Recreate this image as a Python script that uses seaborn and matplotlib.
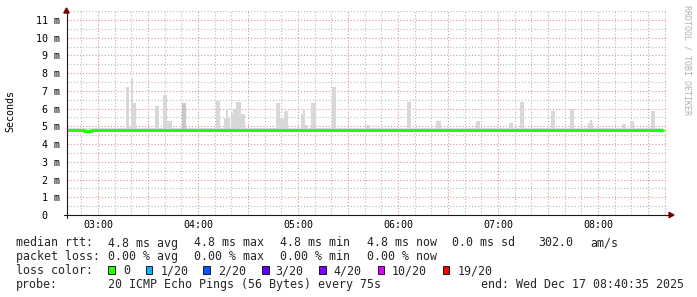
import matplotlib
matplotlib.use("Agg")
import matplotlib.pyplot as plt
from matplotlib.ticker import FixedLocator, MultipleLocator
from matplotlib.patches import Rectangle, Polygon
from matplotlib.lines import Line2D
import seaborn as sns
import pandas as pd
import numpy as np

# ---------------- data (time in minutes after 03:00, values in ms) ----------------
x_start_min = -18.6
x_end_min = 341.4
data_end_min = 339.0

hour_tick_min = [0, 60, 120, 180, 240, 300]
hour_tick_labels = ["03:00", "04:00", "05:00", "06:00", "07:00", "08:00"]

y_tick_ms = [0, 1, 2, 3, 4, 5, 6, 7, 8, 9, 10, 11]
y_tick_labels = ["0  ", "1 m", "2 m", "3 m", "4 m", "5 m", "6 m", "7 m", "8 m", "9 m", "10 m", "11 m"]

median_start_min = -18.6
median_step_min = 5.0
median_ms = [
    4.80, 4.81, 4.73, 4.79, 4.80, 4.80, 4.81, 4.80, 4.80, 4.79, 4.80, 4.81,
    4.80, 4.80, 4.79, 4.80, 4.81, 4.80, 4.80, 4.80, 4.79, 4.80, 4.81, 4.80,
    4.80, 4.79, 4.80, 4.80, 4.81, 4.80, 4.80, 4.79, 4.80, 4.80, 4.81, 4.80,
    4.79, 4.80, 4.80, 4.81, 4.80, 4.80, 4.79, 4.80, 4.80, 4.81, 4.80, 4.80,
    4.79, 4.80, 4.81, 4.80, 4.80, 4.79, 4.80, 4.80, 4.81, 4.80, 4.80, 4.79,
    4.80, 4.80, 4.81, 4.80, 4.80, 4.79, 4.80, 4.80, 4.81, 4.80, 4.80, 4.80,
]

smoke_floor_ms = 4.68
smoke_band_top_ms = 4.92

spike_start_min = [16.6, 18.6, 19.8, 21.2, 34.2, 39.0, 41.6, 50.2, 70.6, 75.6, 76.8, 77.8,
                   79.8, 81.2, 82.8, 85.8, 106.6, 109.2, 111.6, 121.6, 123.0, 124.2, 127.8,
                   140.2, 160.2, 185.2, 202.8, 226.6, 246.6, 253.2, 271.6, 283.2, 294.0,
                   295.2, 314.2, 319.2, 331.6]
spike_end_min = [18.6, 19.8, 21.2, 22.8, 36.6, 41.6, 44.2, 52.6, 73.2, 77.8, 77.8, 79.2,
                 82.8, 82.8, 85.8, 88.2, 109.2, 111.6, 114.2, 123.0, 124.2, 125.4, 130.8,
                 142.8, 163.2, 187.6, 205.6, 229.2, 249.2, 255.6, 274.2, 285.6, 296.8,
                 296.4, 316.8, 321.6, 334.2]
spike_top_ms = [7.24, 5.00, 7.65, 6.30, 6.15, 6.77, 5.30, 6.30, 6.45, 5.45, 5.96, 5.45,
                5.77, 6.00, 6.36, 5.68, 6.30, 5.40, 5.85, 5.72, 5.96, 5.10, 6.33,
                7.24, 5.06, 6.36, 5.30, 5.30, 5.20, 6.36, 5.87, 5.96, 5.20,
                5.36, 5.12, 5.30, 5.87]
spike_dark = [False] * 7 + [True] + [False] * 29

legend_row1 = [(16, "median rtt:"), (107.7, "4.8 ms avg"), (194, "4.8 ms max"),
               (280.5, "4.8 ms min"), (367, "4.8 ms now"), (451.5, "0.0 ms sd"),
               (538, "302.0"), (590.5, "am/s")]
legend_row2 = [(16, "packet loss:"), (107.7, "0.00 % avg"), (194, "0.00 % max"),
               (280.5, "0.00 % min"), (367, "0.00 % now")]
loss_labels = ["0", "1/20", "2/20", "3/20", "4/20", "10/20", "19/20"]
loss_colors = ["#26ff00", "#00b8ff", "#0059ff", "#5e00ff", "#7e00ff", "#dd00ff", "#ff0000"]
loss_box_x = [108.3, 145.7, 203.3, 262.3, 319.3, 377.7, 442.7]
loss_text_x = [123.5, 160.5, 218.2, 275.5, 333.2, 391.8, 457.2]
probe_text = "20 ICMP Echo Pings (56 Bytes) every 75s"
end_text = "end: Wed Dec 17 08:40:35 2025"

# ---------------- figure ----------------
sns.set_style("white")
plt.rcParams["font.family"] = ["DejaVu Sans Mono", "DejaVu Sans"]

W, H = 697, 297
fig = plt.figure(figsize=(W / 100, H / 100), dpi=100)
fig.patch.set_facecolor("white")

def fx(px):
    return px / W

def fy(py):
    return (H - py) / H

ax_top_px, ax_bot_px, ax_left_px, ax_right_px = 11.1, 215.0, 67.0, 667.0
ax = fig.add_axes([fx(ax_left_px), fy(ax_bot_px), (ax_right_px - ax_left_px) / W,
                   (ax_bot_px - ax_top_px) / H])
ax.set_facecolor("white")
ax.set_xlim(x_start_min, x_end_min)
ax.set_ylim(0, 11.5)

# grid
grid_minor = "#bababa"
grid_major = "#e39494"
major_x = [t for t in range(0, 341, 30)]
minor_x = [t for t in range(-10, 341, 10) if t % 30 != 0]
ax.xaxis.set_major_locator(FixedLocator(major_x))
ax.xaxis.set_minor_locator(FixedLocator(minor_x))
ax.set_xticklabels([hour_tick_labels[hour_tick_min.index(t)] if t in hour_tick_min else ""
                    for t in major_x])
ax.yaxis.set_major_locator(FixedLocator(y_tick_ms))
ax.yaxis.set_minor_locator(MultipleLocator(0.5))
ax.set_yticklabels(y_tick_labels)

dot = (0, (1.0, 1.8))
ax.grid(True, which="minor", color=grid_minor, linestyle=dot, linewidth=0.8, zorder=0)
ax.grid(True, which="major", color=grid_major, linestyle=dot, linewidth=0.8, zorder=0)
ax.set_axisbelow(True)

ax.tick_params(axis="both", which="both", direction="out", length=1.5, width=0.7)
ax.tick_params(axis="both", which="major", color=grid_major)
ax.tick_params(axis="both", which="minor", color=grid_minor)
ax.tick_params(axis="x", which="major", labelsize=7.2, pad=2.2, labelcolor="black")
ax.tick_params(axis="y", which="major", labelsize=7.2, pad=3.6, labelcolor="black")
for lab in ax.get_yticklabels():
    lab.set_horizontalalignment("right")

for s in ax.spines.values():
    s.set_visible(False)

# smoke
ax.fill_between([x_start_min, data_end_min], smoke_floor_ms, smoke_band_top_ms,
                color="#dedede", linewidth=0, zorder=2)
starts = np.array(spike_start_min)
widths = np.array(spike_end_min) - starts
heights = np.array(spike_top_ms) - smoke_floor_ms
colors = ["#c6c6c6" if d else "#d8d8d8" for d in spike_dark]
ax.bar(starts, heights, width=widths, bottom=smoke_floor_ms, align="edge",
       color=colors, linewidth=0, zorder=2)

# median line
t = [median_start_min + i * median_step_min for i in range(len(median_ms))] + [data_end_min]
v = median_ms + [median_ms[-1]]
df = pd.DataFrame({"t": t, "rtt": v})
sns.lineplot(data=df, x="t", y="rtt", ax=ax, color="#26ff00", linewidth=2.2,
             drawstyle="steps-post", zorder=5, estimator=None, sort=False)
ax.set_xlabel("")
ax.set_ylabel("")

# axis lines and arrows
axis_col = "#1a1a1a"
arrow_col = "#7f0000"
fig.add_artist(Line2D([fx(66.5), fx(66.5)], [fy(218), fy(12.5)], color=axis_col,
                      linewidth=0.8, transform=fig.transFigure))
fig.add_artist(Line2D([fx(64), fx(670)], [fy(215), fy(215)], color=axis_col,
                      linewidth=0.8, transform=fig.transFigure))
fig.add_artist(Polygon([[fx(63.8), fy(13)], [fx(69.2), fy(13)], [fx(66.5), fy(8)]],
                       closed=True, color=arrow_col, transform=fig.transFigure))
fig.add_artist(Polygon([[fx(669), fy(212.3)], [fx(669), fy(217.7)], [fx(674), fy(215)]],
                       closed=True, color=arrow_col, transform=fig.transFigure))

# labels
fig.text(fx(10.8), fy(111), "Seconds", rotation=90, ha="center", va="center",
         fontsize=7.2, color="black")
fig.text(fx(687.5), fy(60), "RRDTOOL / TOBI OETIKER", rotation=270, ha="center",
         va="center", fontsize=6, color="#b0b0b0")

LEG_FS = 8.37
for x, s in legend_row1:
    fig.text(fx(x), fy(246.5), s, ha="left", va="baseline", fontsize=LEG_FS)
for x, s in legend_row2:
    fig.text(fx(x), fy(260.3), s, ha="left", va="baseline", fontsize=LEG_FS)
fig.text(fx(16), fy(274), "loss color:", ha="left", va="baseline", fontsize=LEG_FS)
for bx, tx, lab, col in zip(loss_box_x, loss_text_x, loss_labels, loss_colors):
    fig.add_artist(Rectangle((fx(bx), fy(273.7)), 6.7 / W, 7.4 / H, facecolor=col,
                             edgecolor="black", linewidth=0.6, transform=fig.transFigure))
    fig.text(fx(tx), fy(274), lab, ha="left", va="baseline", fontsize=LEG_FS)
fig.text(fx(16), fy(287.7), "probe:", ha="left", va="baseline", fontsize=LEG_FS)
fig.text(fx(107.7), fy(287.7), probe_text, ha="left", va="baseline", fontsize=LEG_FS)
fig.text(fx(684), fy(287.7), end_text, ha="right", va="baseline", fontsize=LEG_FS)

fig.savefig("out.png", dpi=100, facecolor="white")
